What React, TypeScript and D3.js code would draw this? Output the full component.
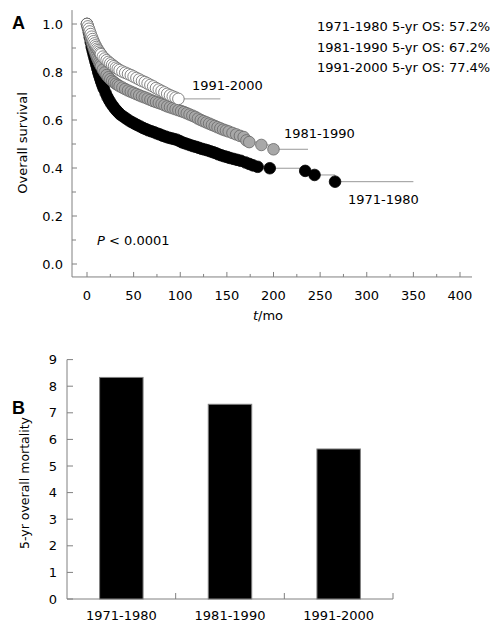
import React from "react";
import * as d3 from "d3";

const periods = ["1971-1980", "1981-1990", "1991-2000"];
const osLabels = [
  "1971-1980 5-yr OS: 57.2%",
  "1981-1990 5-yr OS: 67.2%",
  "1991-2000 5-yr OS: 77.4%",
];

// Kaplan-Meier points: [month, survival]
const km7180: [number, number][] = [
  [0, 1.0], [1, 0.985], [2, 0.965], [3, 0.945], [4, 0.925], [5, 0.905], [6, 0.89], [7, 0.874],
  [8, 0.859], [9, 0.844], [10, 0.83], [11, 0.815], [12, 0.8], [13, 0.787], [14, 0.775],
  [15, 0.763], [16, 0.752], [17, 0.741], [18, 0.731], [20, 0.712], [22, 0.695], [24, 0.681],
  [26, 0.668], [28, 0.657], [30, 0.647], [32, 0.638], [34, 0.63], [36, 0.622], [39, 0.614],
  [42, 0.606], [45, 0.598], [48, 0.591], [51, 0.585], [54, 0.579], [57, 0.573], [60, 0.567],
  [63, 0.562], [66, 0.557], [69, 0.553], [72, 0.549], [75, 0.544], [78, 0.54], [81, 0.535],
  [84, 0.531], [87, 0.527], [90, 0.524], [93, 0.521], [96, 0.518], [99, 0.513], [102, 0.507],
  [105, 0.503], [108, 0.499], [111, 0.495], [114, 0.491], [117, 0.488], [120, 0.484],
  [123, 0.48], [126, 0.477], [129, 0.474], [132, 0.47], [135, 0.466], [138, 0.462],
  [141, 0.457], [144, 0.453], [147, 0.449], [150, 0.446], [153, 0.442], [157, 0.438],
  [161, 0.434], [165, 0.43], [170, 0.423], [174, 0.417], [178, 0.411], [183, 0.405],
  [196, 0.399], [234, 0.388], [244, 0.371], [266, 0.343],
];
const km8190: [number, number][] = [
  [0, 1.0], [1, 0.985], [2, 0.97], [3, 0.955], [4, 0.94], [5, 0.927], [6, 0.914], [7, 0.902],
  [8, 0.89], [9, 0.879], [10, 0.868], [11, 0.858], [12, 0.849], [13, 0.84], [14, 0.832],
  [15, 0.824], [17, 0.81], [19, 0.798], [21, 0.787], [23, 0.778], [25, 0.77], [27, 0.763],
  [29, 0.757], [31, 0.751], [33, 0.746], [35, 0.741], [38, 0.735], [41, 0.729], [44, 0.723],
  [47, 0.718], [50, 0.713], [53, 0.708], [56, 0.703], [59, 0.698], [62, 0.694], [65, 0.689],
  [68, 0.684], [71, 0.679], [74, 0.675], [77, 0.671], [80, 0.667], [83, 0.662], [86, 0.657],
  [89, 0.653], [92, 0.649], [95, 0.645], [98, 0.641], [101, 0.637], [104, 0.633], [107, 0.628],
  [110, 0.623], [113, 0.618], [116, 0.613], [119, 0.606], [122, 0.6], [125, 0.595],
  [128, 0.59], [131, 0.585], [134, 0.58], [137, 0.575], [140, 0.57], [143, 0.565],
  [146, 0.56], [149, 0.556], [152, 0.552], [156, 0.546], [160, 0.54], [164, 0.534],
  [168, 0.529], [171, 0.515], [174, 0.508], [187, 0.496], [200, 0.478],
];
const km9100: [number, number][] = [
  [0, 1.0], [1, 0.99], [2, 0.98], [3, 0.969], [4, 0.958], [5, 0.947], [6, 0.937], [7, 0.928],
  [8, 0.919], [9, 0.911], [10, 0.904], [11, 0.897], [12, 0.891], [13, 0.885], [14, 0.879],
  [15, 0.874], [17, 0.864], [19, 0.856], [21, 0.849], [23, 0.842], [25, 0.836], [27, 0.83],
  [29, 0.824], [31, 0.818], [33, 0.813], [35, 0.808], [38, 0.802], [41, 0.797], [44, 0.792],
  [47, 0.787], [50, 0.781], [53, 0.775], [56, 0.769], [59, 0.763], [62, 0.758], [65, 0.752],
  [68, 0.746], [71, 0.74], [74, 0.733], [77, 0.727], [80, 0.721], [83, 0.715], [86, 0.709],
  [89, 0.703], [92, 0.698], [95, 0.693], [98, 0.688],
];
const followUpEnd = [350, 237, 143];

const mortality = [8.33, 7.32, 5.64];

const xTicks = [0, 50, 100, 150, 200, 250, 300, 350, 400];
const xMinor = [25, 75, 125, 175, 225, 275, 325, 375];
const yTicks = [0, 0.2, 0.4, 0.6, 0.8, 1.0];
const yMinor = [0.1, 0.3, 0.5, 0.7, 0.9];
const barTicks = [0, 1, 2, 3, 4, 5, 6, 7, 8, 9];

const FONT = "'DejaVu Sans', Verdana, sans-serif";
const AXIS = "#808080";

export default function App() {
  const x = d3.scaleLinear().domain([0, 400]).range([87, 460]);
  const y = d3.scaleLinear().domain([0, 1]).range([264, 24]);
  const xAxisY = y(-0.054);
  const yAxisX = 72;

  const series = [
    { data: km7180, fill: "#000000", stroke: "#000000", end: followUpEnd[0] },
    { data: km8190, fill: "#a8a8a8", stroke: "#666666", end: followUpEnd[1] },
    { data: km9100, fill: "#ffffff", stroke: "#666666", end: followUpEnd[2] },
  ];
  const step = d3
    .line<[number, number]>()
    .x((d) => x(d[0]))
    .y((d) => y(d[1]))
    .curve(d3.curveStepAfter);

  const xb = d3
    .scaleBand<string>()
    .domain(periods)
    .range([67, 393])
    .paddingInner(0.6)
    .paddingOuter(0.3);
  const yb = d3.scaleLinear().domain([0, 9]).range([599, 359.6]);

  return (
    <svg
      width={503}
      height={630}
      style={{ position: "absolute", left: 0, top: 0, background: "#fff" }}
      fontFamily={FONT}
    >
      <rect x={0} y={0} width={503} height={630} fill="#fff" />
      {/* Panel A */}
      <text x={12} y={29} fontSize={18} fontWeight="bold" fontFamily="'Liberation Sans', Arial, sans-serif">A</text>
      {/* axes */}
      <line x1={yAxisX} x2={yAxisX} y1={y(1.058)} y2={xAxisY} stroke={AXIS} />
      <line x1={yAxisX} x2={472} y1={xAxisY} y2={xAxisY} stroke={AXIS} />
      {yTicks.map((t) => (
        <g key={"yt" + t}>
          <line x1={yAxisX} x2={yAxisX + 5} y1={y(t)} y2={y(t)} stroke={AXIS} />
          <text x={63} y={y(t)} dy="0.35em" textAnchor="end" fontSize={13}>
            {t.toFixed(1)}
          </text>
        </g>
      ))}
      {yMinor.map((t) => (
        <line key={"ym" + t} x1={yAxisX} x2={yAxisX + 4} y1={y(t)} y2={y(t)} stroke={AXIS} />
      ))}
      {xTicks.map((t) => (
        <g key={"xt" + t}>
          <line x1={x(t)} x2={x(t)} y1={xAxisY} y2={xAxisY - 5} stroke={AXIS} />
          <text x={x(t)} y={300} textAnchor="middle" fontSize={13}>
            {t}
          </text>
        </g>
      ))}
      {xMinor.map((t) => (
        <line key={"xm" + t} x1={x(t)} x2={x(t)} y1={xAxisY} y2={xAxisY - 3} stroke={AXIS} />
      ))}
      <text x={268} y={320} textAnchor="middle" fontSize={13}>
        <tspan fontStyle="italic">t</tspan>/mo
      </text>
      <text
        transform={`translate(27,${143}) rotate(-90)`}
        textAnchor="middle"
        fontSize={13}
      >
        Overall survival
      </text>
      <text x={97} y={245} fontSize={13}>
        <tspan fontStyle="italic">P</tspan> &lt; 0.0001
      </text>
      {osLabels.map((s, i) => (
        <text key={s} x={317} y={31 + i * 20.5} fontSize={13}>
          {s}
        </text>
      ))}
      {/* KM step lines */}
      {series.map((s, i) => {
        const last = s.data[s.data.length - 1];
        const pts = [...s.data, [s.end, last[1]] as [number, number]];
        return <path key={"l" + i} d={step(pts) || ""} fill="none" stroke="#999" strokeWidth={1} />;
      })}
      {/* censor circles */}
      {series.map((s, i) => (
        <g key={"c" + i}>
          {s.data.map((d, j) => (
            <circle
              key={j}
              cx={x(d[0])}
              cy={y(d[1])}
              r={5.8}
              fill={s.fill}
              stroke={s.stroke}
              strokeWidth={0.8}
            />
          ))}
        </g>
      ))}
      <text x={192} y={89.5} fontSize={13}>1991-2000</text>
      <text x={284} y={138} fontSize={13}>1981-1990</text>
      <text x={348} y={203.5} fontSize={13}>1971-1980</text>

      {/* Panel B */}
      <text x={12} y={414} fontSize={18} fontWeight="bold" fontFamily="'Liberation Sans', Arial, sans-serif">B</text>
      <line x1={67} x2={67} y1={yb(9)} y2={yb(0)} stroke={AXIS} />
      <line x1={67} x2={393} y1={yb(0)} y2={yb(0)} stroke={AXIS} />
      {barTicks.map((t) => (
        <g key={"bt" + t}>
          <line x1={67} x2={73} y1={yb(t)} y2={yb(t)} stroke={AXIS} />
          <text x={57} y={yb(t)} dy="0.35em" textAnchor="end" fontSize={13}>
            {t}
          </text>
        </g>
      ))}
      {periods.map((p, i) => (
        <g key={p}>
          <rect
            x={xb(p)!}
            y={yb(mortality[i])}
            width={xb.bandwidth()}
            height={yb(0) - yb(mortality[i])}
            fill="#000"
            stroke={AXIS}
            strokeWidth={1}
          />
          <line
            x1={xb(p)! + xb.bandwidth() / 2 + xb.step() / 2}
            x2={xb(p)! + xb.bandwidth() / 2 + xb.step() / 2}
            y1={yb(0)}
            y2={yb(0) - 6}
            stroke={AXIS}
          />
          <text x={xb(p)! + xb.bandwidth() / 2} y={620} textAnchor="middle" fontSize={13}>
            {p}
          </text>
        </g>
      ))}
      <text transform={`translate(29,483) rotate(-90)`} textAnchor="middle" fontSize={12.5}>
        5-yr overall mortality
      </text>
    </svg>
  );
}
